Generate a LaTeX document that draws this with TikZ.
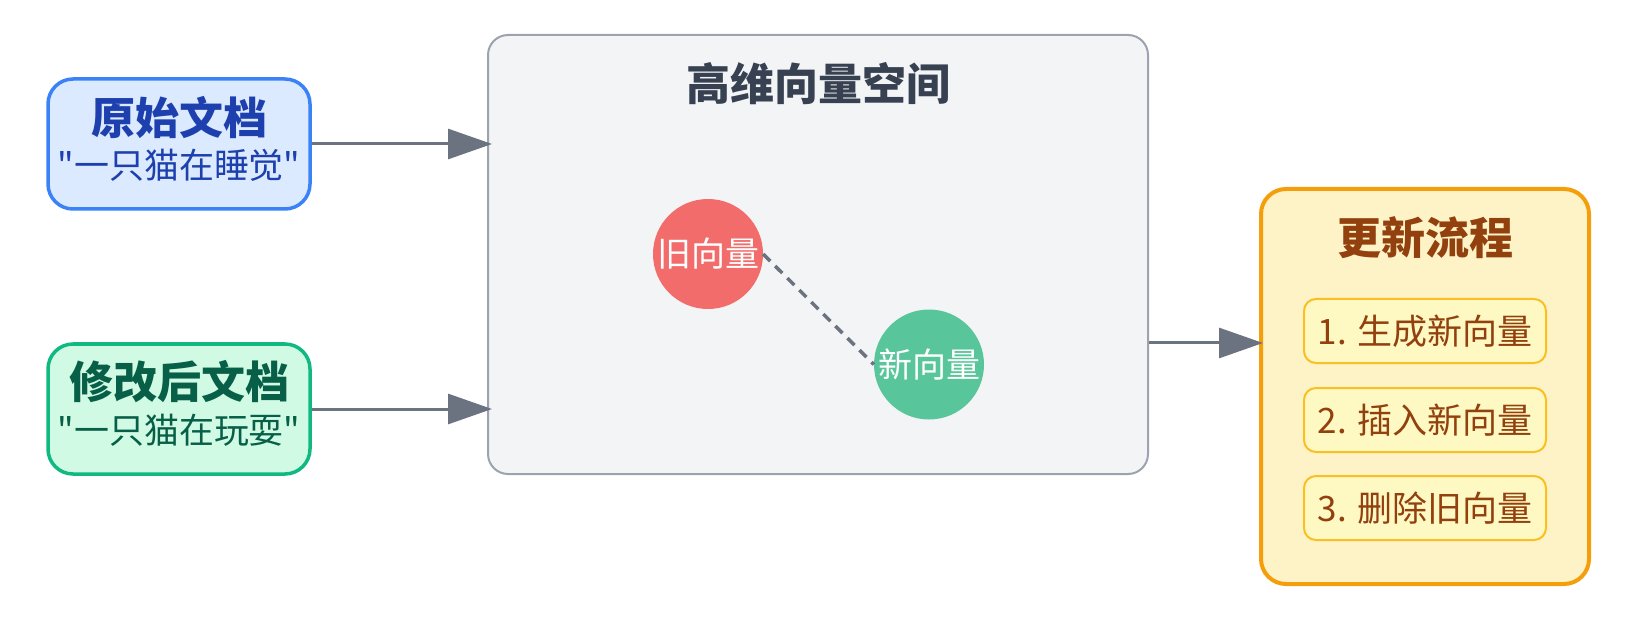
\documentclass[tikz,border=0pt]{standalone}
\usepackage{fontspec}
\setmainfont{Noto Sans CJK SC}[Ligatures=TeXOff]
\usetikzlibrary{arrows.meta}
\definecolor{bluefill}{HTML}{DBEAFE}
\definecolor{blueline}{HTML}{3B82F6}
\definecolor{bluetext}{HTML}{1E40AF}
\definecolor{greenfill}{HTML}{D1FAE5}
\definecolor{greenline}{HTML}{10B981}
\definecolor{greentext}{HTML}{065F46}
\definecolor{spacefill}{HTML}{F3F4F6}
\definecolor{spaceline}{HTML}{9CA3AF}
\definecolor{spacetext}{HTML}{374151}
\definecolor{conngray}{HTML}{6B7280}
\definecolor{oldred}{HTML}{F26C6C}
\definecolor{newgreen}{HTML}{58C59A}
\definecolor{procfill}{HTML}{FEF3C7}
\definecolor{procline}{HTML}{F59E0B}
\definecolor{proctext}{HTML}{92400E}
\definecolor{itemfill}{HTML}{FEF9C3}
\definecolor{itemline}{HTML}{FBBF24}
\tikzset{
  docbox/.style={draw, rounded corners=25pt, line width=3.5pt, minimum width=262pt, minimum height=130pt, inner sep=0pt},
  ttl/.style={font=\fontsize{44}{52}\selectfont\bfseries, inner sep=0pt},
  subt/.style={font=\fontsize{35}{42}\selectfont, inner sep=0pt},
  conn/.style={draw=conngray, line width=3pt, -{Triangle[length=44pt,width=30pt]}},
  vec/.style={circle, minimum size=110pt, inner sep=0pt},
  vectxt/.style={font=\fontsize{34}{40}\selectfont, text=white, inner sep=0pt},
  stepitem/.style={draw=itemline, fill=itemfill, line width=2pt, rounded corners=12pt, minimum width=242pt, minimum height=64pt, inner sep=0pt, font=\fontsize{35}{42}\selectfont, text=proctext}
}
\begin{document}
\begin{tikzpicture}[x=1pt,y=-1pt]
\useasboundingbox (0,0) rectangle (1636,620);
% left documents
\node[docbox, draw=blueline, fill=bluefill] (orig) at (179,144) {};
\node[ttl, text=bluetext] (origt) at (179,117) {原始文档};
\node[subt, text=bluetext] (origs) at (179,165) {"一只猫在睡觉"};
\node[docbox, draw=greenline, fill=greenfill] (mod) at (179,409) {};
\node[ttl, text=greentext] (modt) at (179,382) {修改后文档};
\node[subt, text=greentext] (mods) at (179,430) {"一只猫在玩耍"};
% vector space
\node[draw=spaceline, fill=spacefill, line width=2pt, rounded corners=20pt, minimum width=660pt, minimum height=439pt, inner sep=0pt] (space) at (818,254.5) {};
\node[ttl, text=spacetext] (spacet) at (818,84) {高维向量空间};
\node[vec, fill=oldred, label={[vectxt]center:旧向量}] (old) at (708,254) {};
\node[vec, fill=newgreen, label={[vectxt]center:新向量}] (new) at (929,364.5) {};
\draw[conngray, line width=3.5pt, dash pattern=on 10pt off 7pt] (old.east) -- (new.west);
% process
\node[draw=procline, fill=procfill, line width=4pt, rounded corners=25pt, minimum width=328pt, minimum height=395pt, inner sep=0pt] (proc) at (1425,386.5) {};
\node[ttl, text=proctext] (proct) at (1425,238) {更新流程};
\node[stepitem] (s1) at (1425,331) {1. 生成新向量};
\node[stepitem] (s2) at (1425,420) {2. 插入新向量};
\node[stepitem] (s3) at (1425,508) {3. 删除旧向量};
% connectors
\coordinate (a3) at (0,343);
\draw[conn] (orig.east) -- ([xshift=5pt]space.west |- orig.east);
\draw[conn] (mod.east) -- ([xshift=5pt]space.west |- mod.east);
\draw[conn] (space.east |- a3) -- ([xshift=4pt]proc.west |- a3);
\end{tikzpicture}
\end{document}
